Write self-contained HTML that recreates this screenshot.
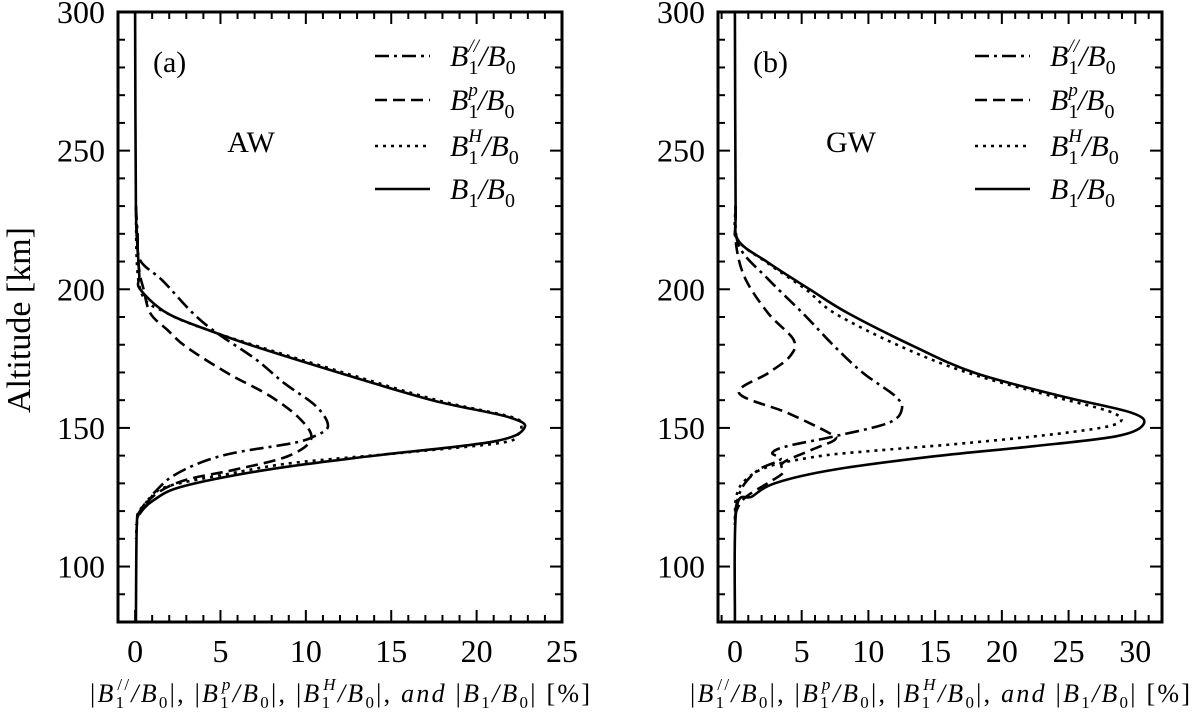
<!DOCTYPE html>
<html><head><meta charset="utf-8"><style>
html,body{margin:0;padding:0;background:#fff;}
svg{display:block;}
text{font-family:"Liberation Serif",serif;fill:#000;}
</style></head><body>
<svg id="fig" width="1200" height="719" viewBox="0 0 1200 719" xmlns="http://www.w3.org/2000/svg">
<text x="0" y="0" transform="translate(30,320) rotate(-90)" text-anchor="middle" font-size="34">Altitude [km]</text>
</svg>
<script>
// Panel (a) AW
const altSolidA=[300,230,215,205,200,191.3,184.6,179.2,169.8,160,154,150,145,139.7,134.9,128.9,124,119.2,115,80];
const valSolidA=[0,0.05,0.15,0.25,0.3,1.9,4.6,7.1,12.0,17.4,21.8,22.8,20.9,13.6,7.7,2.8,1.1,0.3,0.1,0.05];
const altDotA=[230,200,191.3,184.6,179.2,169.8,160,154,151,147.5,144.6,141,137.4,133.8,128.9,124,119,110];
const valDotA=[0.05,0.3,1.9,4.6,7.3,12.3,17.7,22.0,22.6,22.4,21.4,15.6,9.3,5.8,1.9,0.8,0.2,0.05];
const altDashDotA=[230,220,210.4,203.2,191.3,184.2,174.6,166.3,157.8,150.6,147,144.6,141,137.4,132.6,127.8,122,118];
const valDashDotA=[0.05,0.15,0.3,1.6,3.4,4.8,7.1,8.7,10.6,11.3,10.5,9.3,5.8,3.8,2.2,1.3,0.5,0.1];
const altDashA=[230,209,200,191.3,185.3,179.2,169.8,161.5,153,145.8,139.7,134.9,131.3,126.5,120,115];
const valDashA=[0.05,0.2,0.5,0.9,1.9,3.0,5.4,7.9,9.7,10.3,8.9,5.8,3.0,1.3,0.3,0.05];
// Panel (b) GW
const altSolidB=[300,230,218,209.6,200,191.3,179.2,169.8,161.5,155.5,151.2,147,143.4,139.8,135,130.2,125.3,120.5,80];
const valSolidB=[0,0.05,0.2,2.5,5.6,8.5,13.5,18.0,24.4,29.7,30.6,28.6,22.4,15.0,7.5,3.1,1.3,0.1,0];
const altDotB=[230,218,209.6,200,191.3,179.2,169.8,161.5,155.5,151.5,148.3,144.6,141.6,139.8,136.2,131.3,125.3,115];
const valDotB=[0.05,0.2,2.4,5.3,7.5,12.5,17.5,23.7,28.3,28.6,24.9,17.5,10.0,6.3,2.6,0.8,0.1,0];
const altDashDotB=[230,215.6,203.6,191.3,179.2,169.8,161.5,156.7,151.8,147,143.4,141,138.6,135,129,122,115];
const valDashDotB=[0.05,0.3,2.5,5.1,7.5,9.6,12.0,12.5,11.5,7.5,3.9,2.8,3.4,1.8,0.6,0.1,0];
const altDashB=[230,215.6,203.6,191.3,181.7,175.7,169.8,162.6,155.5,148.3,145.8,142.2,137.4,133.8,130.2,125,120,115];
const valDashB=[0.05,0.1,0.8,2.5,4.4,4.1,2.5,0.3,3.9,7.0,7.5,5.8,3.6,3.6,2.5,0.8,0.1,0];
const xTicksA=[0,5,10,15,20,25];
const xTicksB=[0,5,10,15,20,25,30];
const yTicks=[100,150,200,250,300];
const legendLabels=['B1//','B1p','B1H','B1'];

const NS='http://www.w3.org/2000/svg';
const svg=document.getElementById('fig');
function mk(tag,attrs,parent){const e=document.createElementNS(NS,tag);for(const k in attrs)e.setAttribute(k,attrs[k]);(parent||svg).appendChild(e);return e;}
const yTop=12,yBot=622;
function yScale(a){return yTop+(300-a)*(yBot-yTop)/220;}
const styles={solid:'',dot:'3 5',dashdot:'14 5 3 5',dash:'12 6'};

function smoothPath(pts){
  let d='M'+pts[0][0].toFixed(1)+','+pts[0][1].toFixed(1);
  for(let i=0;i<pts.length-1;i++){
    const p0=pts[i-1]||pts[i],p1=pts[i],p2=pts[i+1],p3=pts[i+2]||p2;
    const c1=[p1[0]+(p2[0]-p0[0])/6,p1[1]+(p2[1]-p0[1])/6];
    const c2=[p2[0]-(p3[0]-p1[0])/6,p2[1]-(p3[1]-p1[1])/6];
    d+='C'+c1[0].toFixed(1)+','+c1[1].toFixed(1)+' '+c2[0].toFixed(1)+','+c2[1].toFixed(1)+' '+p2[0].toFixed(1)+','+p2[1].toFixed(1);
  }
  return d;
}

function panel(opt){
  const g=mk('g',{});
  
  
  const xs=v=>opt.x0+(v-opt.xmin)*(opt.x1-opt.x0)/(opt.xmax-opt.xmin);
  opt.series.forEach(s=>{
    const pts=s.alt.map((a,i)=>[xs(s.val[i]),yScale(a)]);
    const p=mk('path',{d:smoothPath(pts),fill:'none',stroke:'#000','stroke-width':2.6,'stroke-dasharray':styles[s.style],'stroke-linejoin':'round'},g);
    
    
  });
  const fr=mk('rect',{x:opt.x0,y:yTop,width:opt.x1-opt.x0,height:yBot-yTop,fill:'none',stroke:'#000','stroke-width':3},g);
  
  
  for(let v=Math.ceil(opt.xmin);v<=opt.xmax;v++){
    const x=xs(v);const major=v%5===0;const L=major?12:7;
    mk('line',{x1:x,y1:yBot,x2:x,y2:yBot-L,stroke:'#000','stroke-width':2},g);
    mk('line',{x1:x,y1:yTop,x2:x,y2:yTop+L,stroke:'#000','stroke-width':2},g);
  }
  opt.xticks.forEach(v=>{
    const t=mk('text',{x:xs(v),y:yBot+40,'text-anchor':'middle','font-size':32},g);
    t.textContent=v;
    
    
  });
  for(let a=90;a<=300;a+=10){
    const y=yScale(a);const major=a%50===0;const L=major?12:7;
    mk('line',{x1:opt.x0,y1:y,x2:opt.x0+L,y2:y,stroke:'#000','stroke-width':2},g);
    mk('line',{x1:opt.x1,y1:y,x2:opt.x1-L,y2:y,stroke:'#000','stroke-width':2},g);
  }
  yTicks.forEach(a=>{
    const t=mk('text',{x:opt.x0-13,y:yScale(a)+11,'text-anchor':'end','font-size':32},g);
    t.textContent=a;
    
    
  });
  const pl=mk('text',{x:opt.x0+35,y:72,'font-size':30},g);
  pl.textContent=opt.label;
  
  
  const wl=mk('text',{x:opt.x0+133,y:152,'text-anchor':'middle','font-size':30},g);
  wl.textContent=opt.wave;
  
  
  const lx=opt.x0+257;const rows=[56,100,146,189];
  const lstyles=['dashdot','dash','dot','solid'];
  const sups=['//','p','H',''];
  rows.forEach((y,i)=>{
    const ln=mk('line',{x1:lx,y1:y,x2:lx+55,y2:y,stroke:'#000','stroke-width':2.6,'stroke-dasharray':styles[lstyles[i]]},g);
    
    
    const t=mk('text',{x:lx+75,y:y+10,'font-size':30,'font-style':'italic'},g);
    
    
    let h='B<tspan font-size="20" font-style="normal" dy="8">1</tspan>';
    if(sups[i]) h+='<tspan font-size="19" dx="-10" dy="-22">'+sups[i]+'</tspan><tspan dy="14">/B</tspan>';
    else h+='<tspan dy="-8">/B</tspan>';
    h+='<tspan font-size="20" font-style="normal" dy="8">0</tspan>';
    t.innerHTML=h;
  });
  const xt=mk('text',{x:(opt.x0+opt.x1)/2,y:702,'text-anchor':'middle','font-size':26,textLength:500,lengthAdjust:'spacing'},g);
  
  
  xt.innerHTML='|<tspan font-style="italic">B</tspan><tspan font-size="17" dy="6">1</tspan><tspan font-size="17" dx="-9" dy="-18">//</tspan><tspan dy="12" font-style="italic">/B</tspan><tspan font-size="17" dy="6">0</tspan><tspan dy="-6">|,  |</tspan><tspan font-style="italic">B</tspan><tspan font-size="17" dy="6">1</tspan><tspan font-size="17" font-style="italic" dx="-9" dy="-18">p</tspan><tspan dy="12" font-style="italic">/B</tspan><tspan font-size="17" dy="6">0</tspan><tspan dy="-6">|,  |</tspan><tspan font-style="italic">B</tspan><tspan font-size="17" dy="6">1</tspan><tspan font-size="17" font-style="italic" dx="-9" dy="-18">H</tspan><tspan dy="12" font-style="italic">/B</tspan><tspan font-size="17" dy="6">0</tspan><tspan dy="-6">|, </tspan><tspan font-style="italic">and</tspan><tspan> |</tspan><tspan font-style="italic">B</tspan><tspan font-size="17" dy="6">1</tspan><tspan dy="-6" font-style="italic">/B</tspan><tspan font-size="17" dy="6">0</tspan><tspan dy="-6">| [%]</tspan>';
}

panel({name:'panel-a-aw',x0:118,x1:562,xmin:-1,xmax:25,xticks:xTicksA,label:'(a)',wave:'AW',
  series:[{key:'series-b1-parallel',alt:altDashDotA,val:valDashDotA,style:'dashdot'},
          {key:'series-b1-p',alt:altDashA,val:valDashA,style:'dash'},
          {key:'series-b1-h',alt:altDotA,val:valDotA,style:'dot'},
          {key:'series-b1-total',alt:altSolidA,val:valSolidA,style:'solid'}]});
panel({name:'panel-b-gw',x0:718,x1:1162,xmin:-1.27,xmax:32.0,xticks:xTicksB,label:'(b)',wave:'GW',
  series:[{key:'series-b1-parallel',alt:altDashDotB,val:valDashDotB,style:'dashdot'},
          {key:'series-b1-p',alt:altDashB,val:valDashB,style:'dash'},
          {key:'series-b1-h',alt:altDotB,val:valDotB,style:'dot'},
          {key:'series-b1-total',alt:altSolidB,val:valSolidB,style:'solid'}]});
</script>
</body></html>
